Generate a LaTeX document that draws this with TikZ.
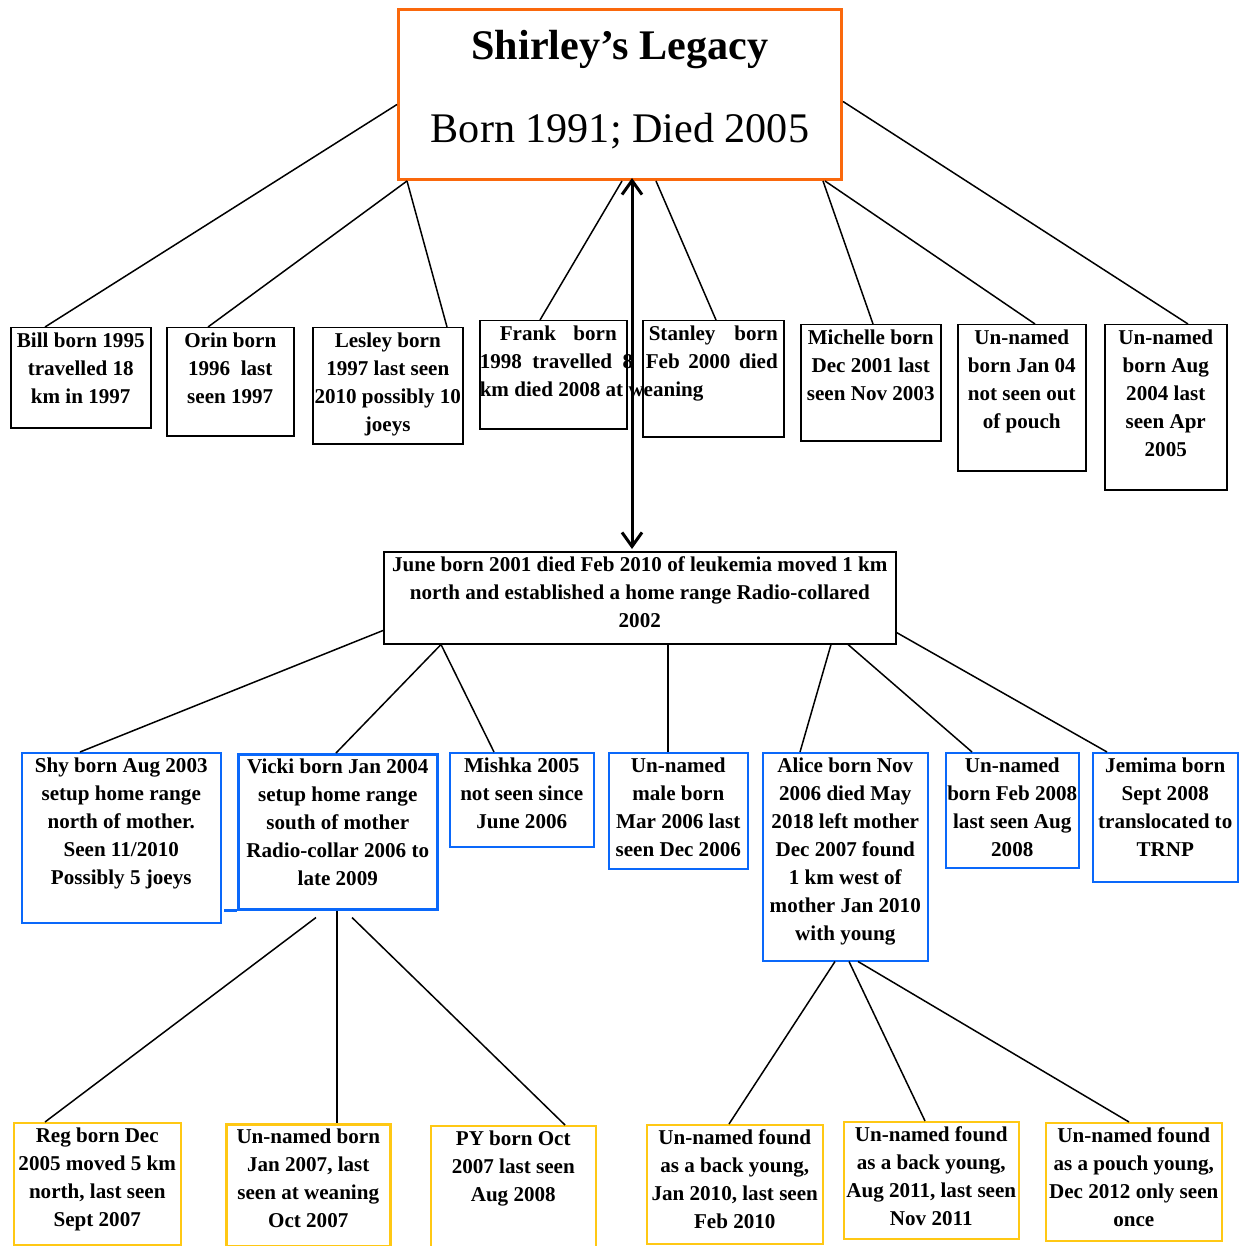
\documentclass[tikz,border=0pt]{standalone}
\usepackage{fontspec}
\setmainfont{Liberation Serif}
\usepackage{tikz}
\usetikzlibrary{arrows.meta}
\definecolor{legacyorange}{RGB}{250,104,12}
\definecolor{legacyblue}{RGB}{10,104,250}
\definecolor{legacygold}{RGB}{255,200,20}
\newdimen\px
\px=0.02cm
\newcommand{\cell}[3]{\parbox[c][#2\px][t]{#1\px}{\centering\vspace*{5\px}#3}}
\tikzset{
	every card/.style={
		draw,
		rectangle,
		inner sep=0pt,
		anchor=north west,
		line width=1.5\px,
		font=\fontsize{12}{28\px}\selectfont\bfseries
	},
	card blue/.style={
		every card,
		draw=legacyblue
	},
	card gold/.style={
		every card,
		draw=legacygold
	},
	family line/.style={
		line width=1.5\px
	},
}
\begin{document}
\begin{tikzpicture}[x=0.02cm,y=-0.02cm]
\useasboundingbox (0,0) rectangle (1239,1246);

\node[every card, draw=legacyorange, line width=3\px, font=\fontsize{24}{83\px}\selectfont] (legacy) at (397,8)
	{\parbox[c][170\px][t]{443\px}{\centering\vspace*{21\px}\textbf{Shirley’s Legacy}\\Born 1991; Died 2005}};

	\node[every card] (bill) at (10,327) {\cell{140}{100}{Bill born 1995\\travelled 18\\km in 1997}};
	\node[every card] (orin) at (166,327) {\cell{127}{108}{Orin born\\1996 \ last\\seen 1997}};
	\node[every card] (lesley) at (312,327) {\cell{150}{116}{Lesley born\\1997 last seen\\2010 possibly 10\\joeys}};
	\node[every card] (frank) at (479,320) {\parbox[c][108\px][t]{147\px}{\vspace*{5\px}\hspace*{20\px}\makebox[117\px][s]{Frank \ born}\\\makebox[\linewidth][l]{1998 \ travelled \ 8}\\\makebox[\linewidth][l]{km died 2008 at weaning}}};
	\node[every card] (stanley) at (642,320) {\parbox[c][116\px][t]{141\px}{\vspace*{5\px}\hspace*{6\px}\makebox[129\px][s]{Stanley \ born}\\\hspace*{3\px}\makebox[132\px][s]{Feb 2000 died}}};
	\node[every card] (michelle) at (800,324) {\cell{140}{116}{Michelle born\\Dec 2001 last\\seen Nov 2003}};
	\node[every card] (janfour) at (957,324) {\cell{128}{146}{Un-named\\born Jan 04\\not seen out\\of pouch}};
	\node[every card] (augfour) at (1104,324) {\cell{122}{165}{Un-named\\born Aug\\2004 last\\seen Apr\\2005}};

\node[every card] (june) at (383,551) {\cell{512}{92}{June born 2001 died Feb 2010 of leukemia moved 1 km\\north and established a home range Radio-collared\\2002}};

	\node[card blue] (shy) at (21,752) {\cell{199}{170}{Shy born Aug 2003\\setup home range\\north of mother.\\Seen 11/2010\\Possibly 5 joeys}};
	\node[card blue, line width=2.5\px] (vicki) at (237,753) {\cell{199}{155}{Vicki born Jan 2004\\setup home range\\south of mother\\Radio-collar 2006 to\\late 2009}};
	\node[card blue] (mishka) at (449,752) {\cell{144}{94}{Mishka 2005\\not seen since\\June 2006}};
	\node[card blue] (male) at (608,752) {\cell{139}{116}{Un-named\\male born\\Mar 2006 last\\seen Dec 2006}};
	\node[card blue] (alice) at (762,752) {\cell{165}{208}{Alice born Nov\\2006 died May\\2018 left mother\\Dec 2007 found\\1 km west of\\mother Jan 2010\\with young}};
	\node[card blue] (febeight) at (945,752) {\cell{133}{115}{Un-named\\born Feb 2008\\last seen Aug\\2008}};
	\node[card blue] (jemima) at (1092,752) {\cell{145}{129}{Jemima born\\Sept 2008\\translocated to\\TRNP}};

		\node[card gold] (reg) at (13,1122) {\cell{167}{122}{Reg born Dec\\2005 moved 5 km\\north, last seen\\Sept 2007}};
		\node[card gold, line width=2.5\px] (janseven) at (225,1123) {\cell{164}{122}{Un-named born\\Jan 2007, last\\seen at weaning\\Oct 2007}};
		\node[card gold] (py) at (430,1125) {\cell{165}{130}{PY born Oct\\2007 last seen\\Aug 2008}};
		\node[card gold] (backjan) at (646,1124) {\cell{176}{119}{Un-named found\\as a back young,\\Jan 2010, last seen\\Feb 2010}};
		\node[card gold] (backaug) at (843,1121) {\cell{175}{117}{Un-named found\\as a back young,\\Aug 2011, last seen\\Nov 2011}};
		\node[card gold] (pouch) at (1045,1122) {\cell{176}{118}{Un-named found\\as a pouch young,\\Dec 2012 only seen\\once}};

\coordinate (vickitail) at ([xshift=-13\px]vicki.south west);
\draw[legacyblue, line width=2.5\px] (vicki.south west) -- (vickitail);

\draw[family line] ([yshift=-10\px]legacy.west) -- ([xshift=35\px]bill.north west);
\draw[family line] ([xshift=10\px]legacy.south west) -- ([xshift=42\px]orin.north west);
\draw[family line] ([xshift=10\px]legacy.south west) -- ([xshift=135\px]lesley.north west);
\draw[family line] ([xshift=225\px]legacy.south west) -- ([xshift=61\px]frank.north west);
\draw[family line] ([xshift=259\px]legacy.south west) -- ([xshift=74\px]stanley.north west);
\draw[family line] ([xshift=-20\px]legacy.south east) -- ([xshift=73\px]michelle.north west);
\draw[family line] ([xshift=-18\px]legacy.south east) -- ([xshift=78\px]janfour.north west);
\draw[family line] ([yshift=-7\px]legacy.east) -- ([xshift=84\px]augfour.north west);

\draw[line width=3\px, {Straight Barb[length=0.28cm,width=0.4cm]}-{Straight Barb[length=0.28cm,width=0.4cm]}]
	([xshift=235\px,yshift=3\px]legacy.south west) -- ([xshift=249\px,yshift=2\px]june.north west);

\draw[family line] ([yshift=14\px]june.south west) -- ([xshift=59\px]shy.north west);
\draw[family line] ([xshift=58\px]june.south west) -- ([xshift=99\px]vicki.north west);
\draw[family line] ([xshift=58\px]june.south west) -- ([xshift=45\px]mishka.north west);
\draw[family line] ([xshift=285\px]june.south west) -- ([xshift=60\px]male.north west);
\draw[family line] ([xshift=448\px]june.south west) -- ([xshift=38\px]alice.north west);
\draw[family line] ([xshift=465\px]june.south west) -- ([xshift=27\px]febeight.north west);
\draw[family line] ([yshift=12\px]june.south east) -- ([xshift=15\px]jemima.north west);

\draw[family line] ([xshift=79\px,yshift=-7\px]vicki.south west) -- ([xshift=32\px]reg.north west);
\draw[family line] ([xshift=100\px]vicki.south west) -- ([xshift=112\px]janseven.north west);
\draw[family line] ([xshift=115\px,yshift=-7\px]vicki.south west) -- ([xshift=135\px]py.north west);

\draw[family line] ([xshift=73\px]alice.south west) -- ([xshift=83\px]backjan.north west);
\draw[family line] ([xshift=87\px]alice.south west) -- ([xshift=82\px]backaug.north west);
\draw[family line] ([xshift=96\px]alice.south west) -- ([xshift=84\px]pouch.north west);
\end{tikzpicture}
\end{document}
